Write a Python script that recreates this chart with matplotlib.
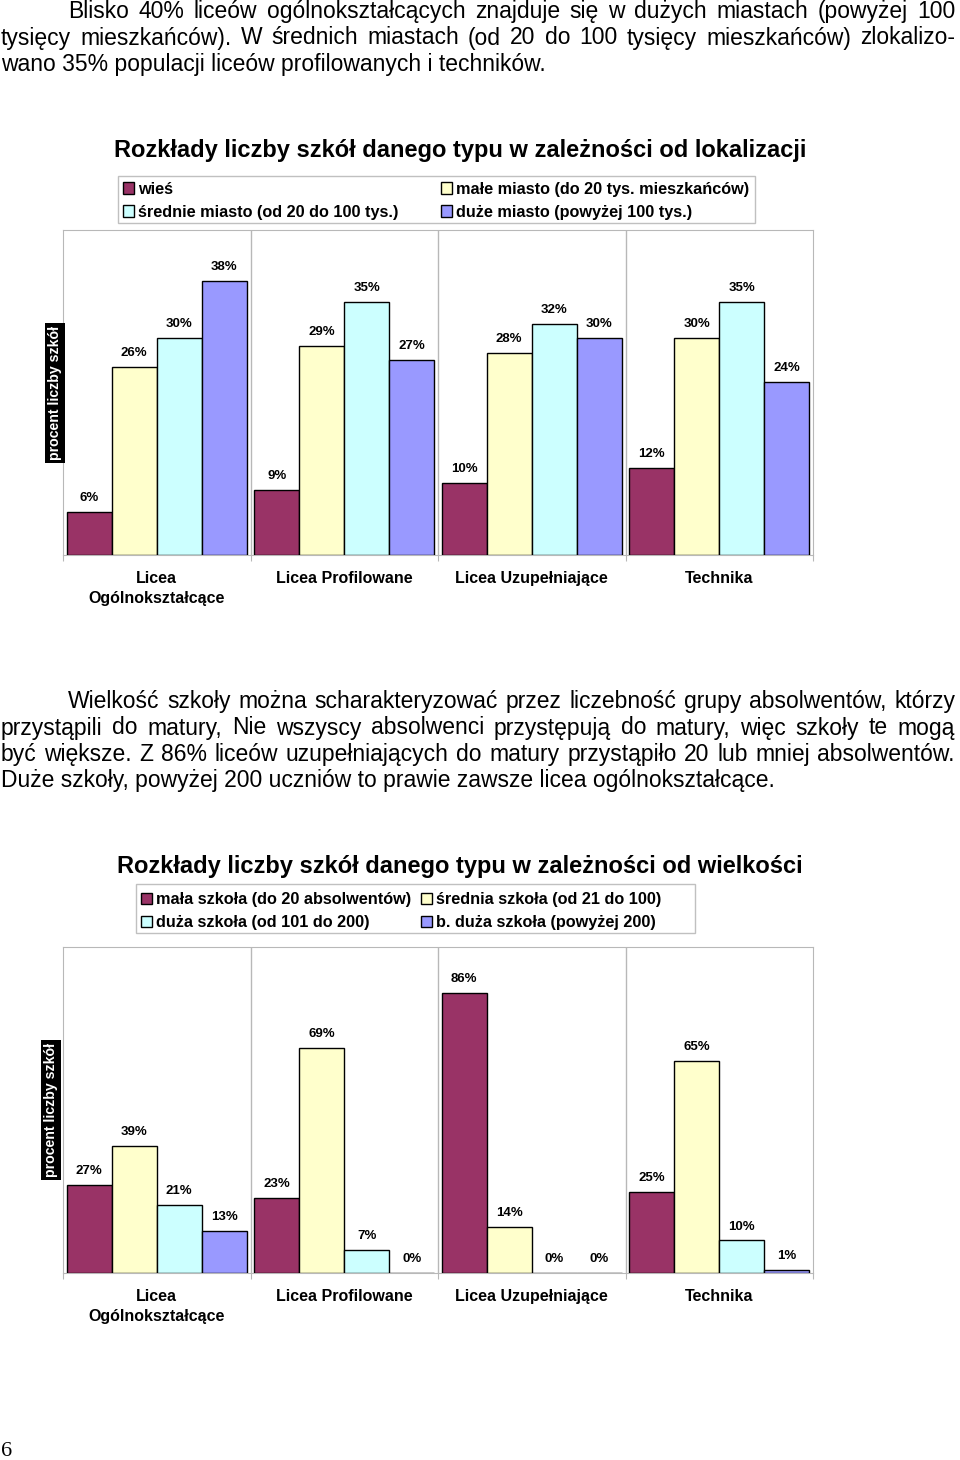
import matplotlib
matplotlib.use('Agg')
import matplotlib.pyplot as plt
from matplotlib.patches import Rectangle

plt.rcParams['font.family'] = ['Liberation Sans', 'DejaVu Sans']

W, H = 960, 1460

##################################################
#################### DATA ########################
##################################################
categories = ['Licea\nOgólnokształcące', 'Licea Profilowane',
              'Licea Uzupełniające', 'Technika']
colors = ['#993366', '#FFFFCC', '#CCFFFF', '#9999FF']

# wykres 1 - lokalizacja
loc_names = ['wieś', 'małe miasto (do 20 tys. mieszkańców)',
             'średnie miasto (od 20 do 100 tys.)',
             'duże miasto (powyżej 100 tys.)']
wies = [6, 9, 10, 12]
male_miasto = [26, 29, 28, 30]
srednie_miasto = [30, 35, 32, 35]
duze_miasto = [38, 27, 30, 24]

# wykres 2 - wielkość
size_names = ['mała szkoła (do 20 absolwentów)',
              'średnia szkoła (od 21 do 100)',
              'duża szkoła (od 101 do 200)',
              'b. duża szkoła (powyżej 200)']
mala = [27, 23, 86, 25]
srednia = [39, 69, 14, 65]
duza = [21, 7, 0, 10]
b_duza = [13, 0, 0, 1]

par1 = [
    "Blisko 40% liceów ogólnokształcących znajduje się w dużych miastach (powyżej 100",
    "tysięcy mieszkańców). W średnich miastach (od 20 do 100 tysięcy mieszkańców) zlokalizo-",
    "wano 35% populacji liceów profilowanych i techników.",
]
par2 = [
    "Wielkość szkoły można scharakteryzować przez liczebność grupy absolwentów, którzy",
    "przystąpili do matury, Nie wszyscy absolwenci przystępują do matury, więc szkoły te mogą",
    "być większe. Z 86% liceów uzupełniających do matury przystąpiło 20 lub mniej absolwentów.",
    "Duże szkoły, powyżej 200 uczniów to prawie zawsze licea ogólnokształcące.",
]

fig = plt.figure(figsize=(W / 100, H / 100), dpi=100)
r = fig.canvas.get_renderer()


def fx(x):
    return x / W


def fy(y):
    return 1 - y / H


def text_line(s, x0, x1, y, size, justify=True):
    if not justify:
        fig.text(fx(x0), fy(y), s, fontsize=size, va='baseline', ha='left')
        return
    words = s.split(' ')
    objs = [fig.text(0, fy(y), w, fontsize=size, va='baseline', ha='left')
            for w in words]
    widths = [t.get_window_extent(r).width for t in objs]
    gap = (x1 - x0 - sum(widths)) / (len(words) - 1)
    x = x0
    for t, w in zip(objs, widths):
        t.set_x(fx(x))
        x += w + gap


def paragraph(lines, y0, step, size=16.5):
    for i, s in enumerate(lines):
        last = i == len(lines) - 1
        x0 = 68 if i == 0 else 1
        text_line(s, x0, 955, y0 + i * step, size, justify=not last)


def legend_box(names, box, cols_x, rows_y, size):
    x0, y0, x1, y1 = box
    fig.patches.append(Rectangle((fx(x0), fy(y1)), fx(x1 - x0), (y1 - y0) / H,
                                 transform=fig.transFigure, fill=False,
                                 edgecolor='#C0C0C0', lw=1))
    for k, name in enumerate(names):
        cx = cols_x[k % 2]
        cy = rows_y[k // 2]
        fig.patches.append(Rectangle((fx(cx), fy(cy + 5.5)), 11 / W, 11 / H,
                                     transform=fig.transFigure,
                                     facecolor=colors[k], edgecolor='black',
                                     lw=1))
        fig.text(fx(cx + 15), fy(cy + 1.5), name, fontsize=size, fontweight='bold',
                 va='center', ha='left')


def bar_chart(top, bottom, series, ymax, ylabel_pos):
    ax = fig.add_axes([fx(63), fy(bottom), fx(813 - 63), (bottom - top) / H])
    n = len(categories)
    bw = 0.24
    for j, vals in enumerate(series):
        xs = [i + 0.02 + bw * (j + 0.5) for i in range(n)]
        ax.bar(xs, vals, width=bw, color=colors[j], edgecolor='black',
               lw=1, zorder=3)
        for x, v in zip(xs, vals):
            ax.annotate(f'{v}%', xy=(x, v), xytext=(0, 10), textcoords='offset points',
                        ha='center', va='center', fontsize=9.5, fontweight='bold')
    ax.set_xlim(0, n)
    ax.set_ylim(0, ymax)
    for i in range(1, n):
        ax.axvline(i, color='#B8B8B8', lw=1, zorder=1)
    for s in ax.spines.values():
        s.set_color('#B8B8B8')
    ax.set_yticks([])
    ax.set_xticks(range(n + 1))
    ax.tick_params(axis='x', length=4, color='#B8B8B8', labelbottom=False)
    for i, c in enumerate(categories):
        ax.annotate(c, xy=(i + 0.5, 0), xycoords=('data', 'axes fraction'),
                    xytext=(0, -11.5), textcoords='offset points', ha='center',
                    va='top', fontsize=11.5, fontweight='bold', linespacing=1.4)
    fig.text(fx(ylabel_pos[0]), fy(ylabel_pos[1]), 'procent liczby szkół',
             rotation=90, color='white', fontsize=10.2, fontweight='bold',
             ha='center', va='center',
             bbox=dict(facecolor='black', edgecolor='none', pad=2))
    return ax


##################################################
#################### PAGE ########################
##################################################
paragraph(par1, 18, 26.5)

fig.text(fx(460), fy(150), 'Rozkłady liczby szkół danego typu w zależności od lokalizacji',
         fontsize=17, fontweight='bold', ha='center', va='center')
legend_box(loc_names, (118, 176, 755, 223), (123, 441), (188, 211), 11.7)
bar_chart(230, 555, [wies, male_miasto, srednie_miasto, duze_miasto], 45, (55, 393))

paragraph(par2, 708, 26.5)

fig.text(fx(460), fy(867), 'Rozkłady liczby szkół danego typu w zależności od wielkości',
         fontsize=17, fontweight='bold', ha='center', va='center')
legend_box(size_names, (136, 884, 695, 933), (141, 421), (898, 921), 11.7)
bar_chart(947, 1273, [mala, srednia, duza, b_duza], 100, (51, 1110))

fig.text(fx(1), fy(1451), '6', fontsize=16, family='Liberation Serif',
         ha='left', va='center')

fig.savefig('out.png', dpi=100)
